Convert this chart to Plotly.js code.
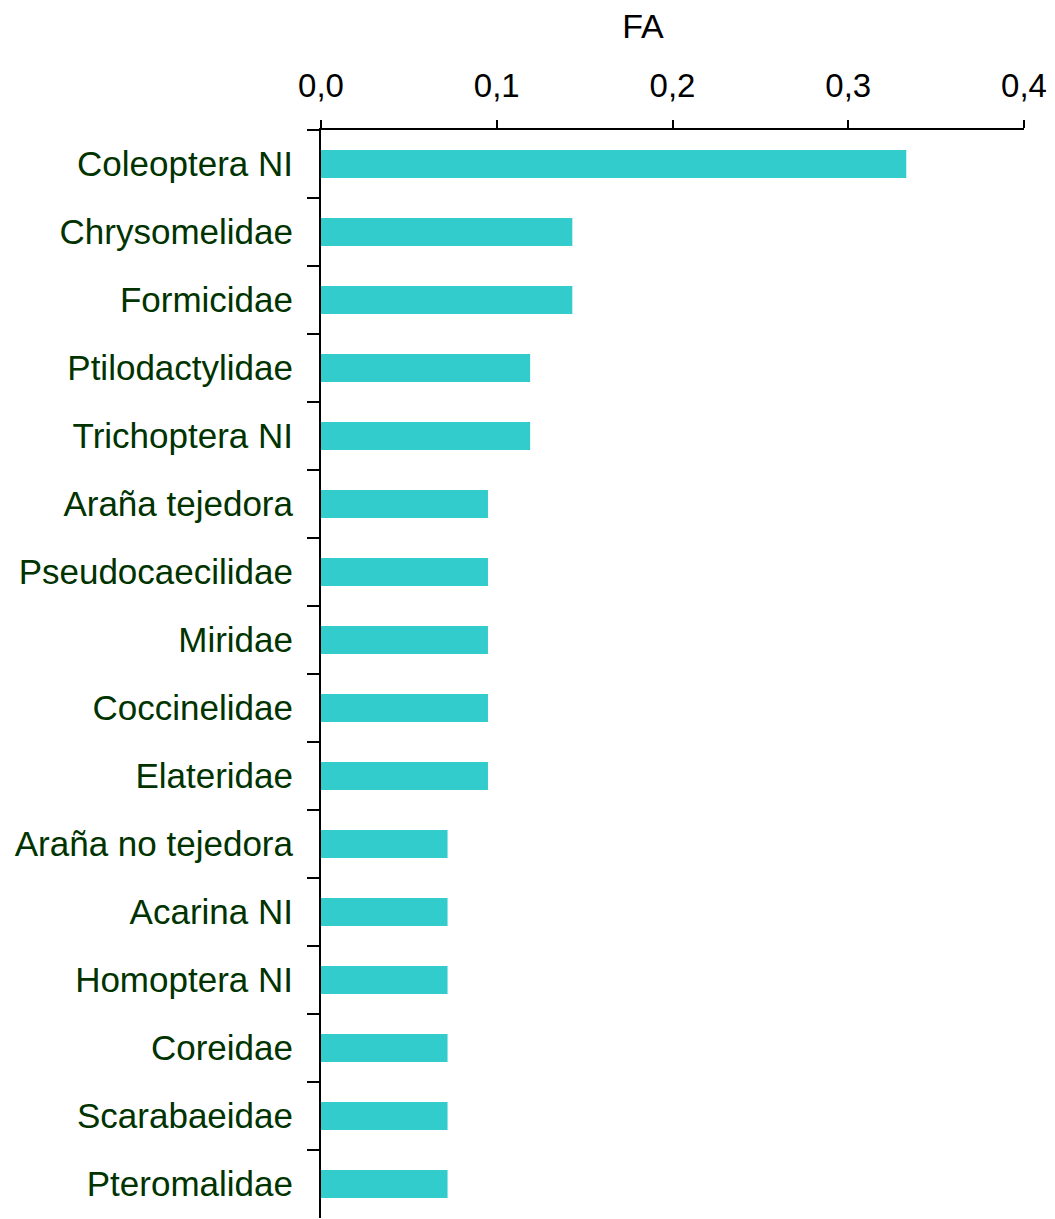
<!DOCTYPE html>
<html>
<head>
<meta charset="utf-8">
<script src="https://cdn.plot.ly/plotly-3.0.1.min.js"></script>
<style>html,body{margin:0;padding:0;background:#fff;}#chart{width:1055px;height:1219px;}</style>
</head>
<body>
<div id="chart"></div>
<script>
const categories = ["Coleoptera NI","Chrysomelidae","Formicidae","Ptilodactylidae","Trichoptera NI","Araña tejedora","Pseudocaecilidae","Miridae","Coccinelidae","Elateridae","Araña no tejedora","Acarina NI","Homoptera NI","Coreidae","Scarabaeidae","Pteromalidae"];
const faValues = [0.333,0.143,0.143,0.119,0.119,0.095,0.095,0.095,0.095,0.095,0.072,0.072,0.072,0.072,0.072,0.072];
const xTicks = [0,0.1,0.2,0.3,0.4];

const trace = {
  type: 'bar', orientation: 'h',
  x: faValues, y: categories,
  width: 0.41,
  marker: {color: '#33CCCC', line: {width: 0}},
  hoverinfo: 'x+y'
};
const layout = {
  width: 1055, height: 1219,
  margin: {l: 321, r: 31, t: 130, b: 1, pad: 0},
  paper_bgcolor: '#fff', plot_bgcolor: '#fff',
  separators: ',.',
  font: {family: '"Liberation Sans", Arial, sans-serif', color: '#000'},
  showlegend: false,
  title: {text: 'FA', font: {size: 34, color: '#000'}, xref: 'paper', x: 0.458, xanchor: 'center', yref: 'container', y: 0.988, yanchor: 'top'},
  xaxis: {
    side: 'top', range: [0, 0.4], tickvals: xTicks, tickformat: '.1f',
    ticks: 'outside', ticklen: 8, tickwidth: 2, tickcolor: '#000',
    showline: true, linewidth: 2, linecolor: '#000',
    showgrid: false, zeroline: false,
    ticklabelstandoff: 10,
    tickfont: {size: 33, color: '#000'}
  },
  yaxis: {
    type: 'category', autorange: 'reversed',
    tickson: 'boundaries', ticks: 'outside', ticklen: 12, tickwidth: 2, tickcolor: '#000',
    showline: true, linewidth: 2, linecolor: '#000',
    showgrid: false, zeroline: false,
    ticklabelstandoff: 19,
    tickfont: {size: 35, color: '#003300'}
  }
};
Plotly.newPlot('chart', [trace], layout, {displayModeBar: false, staticPlot: true});
</script>
</body>
</html>
